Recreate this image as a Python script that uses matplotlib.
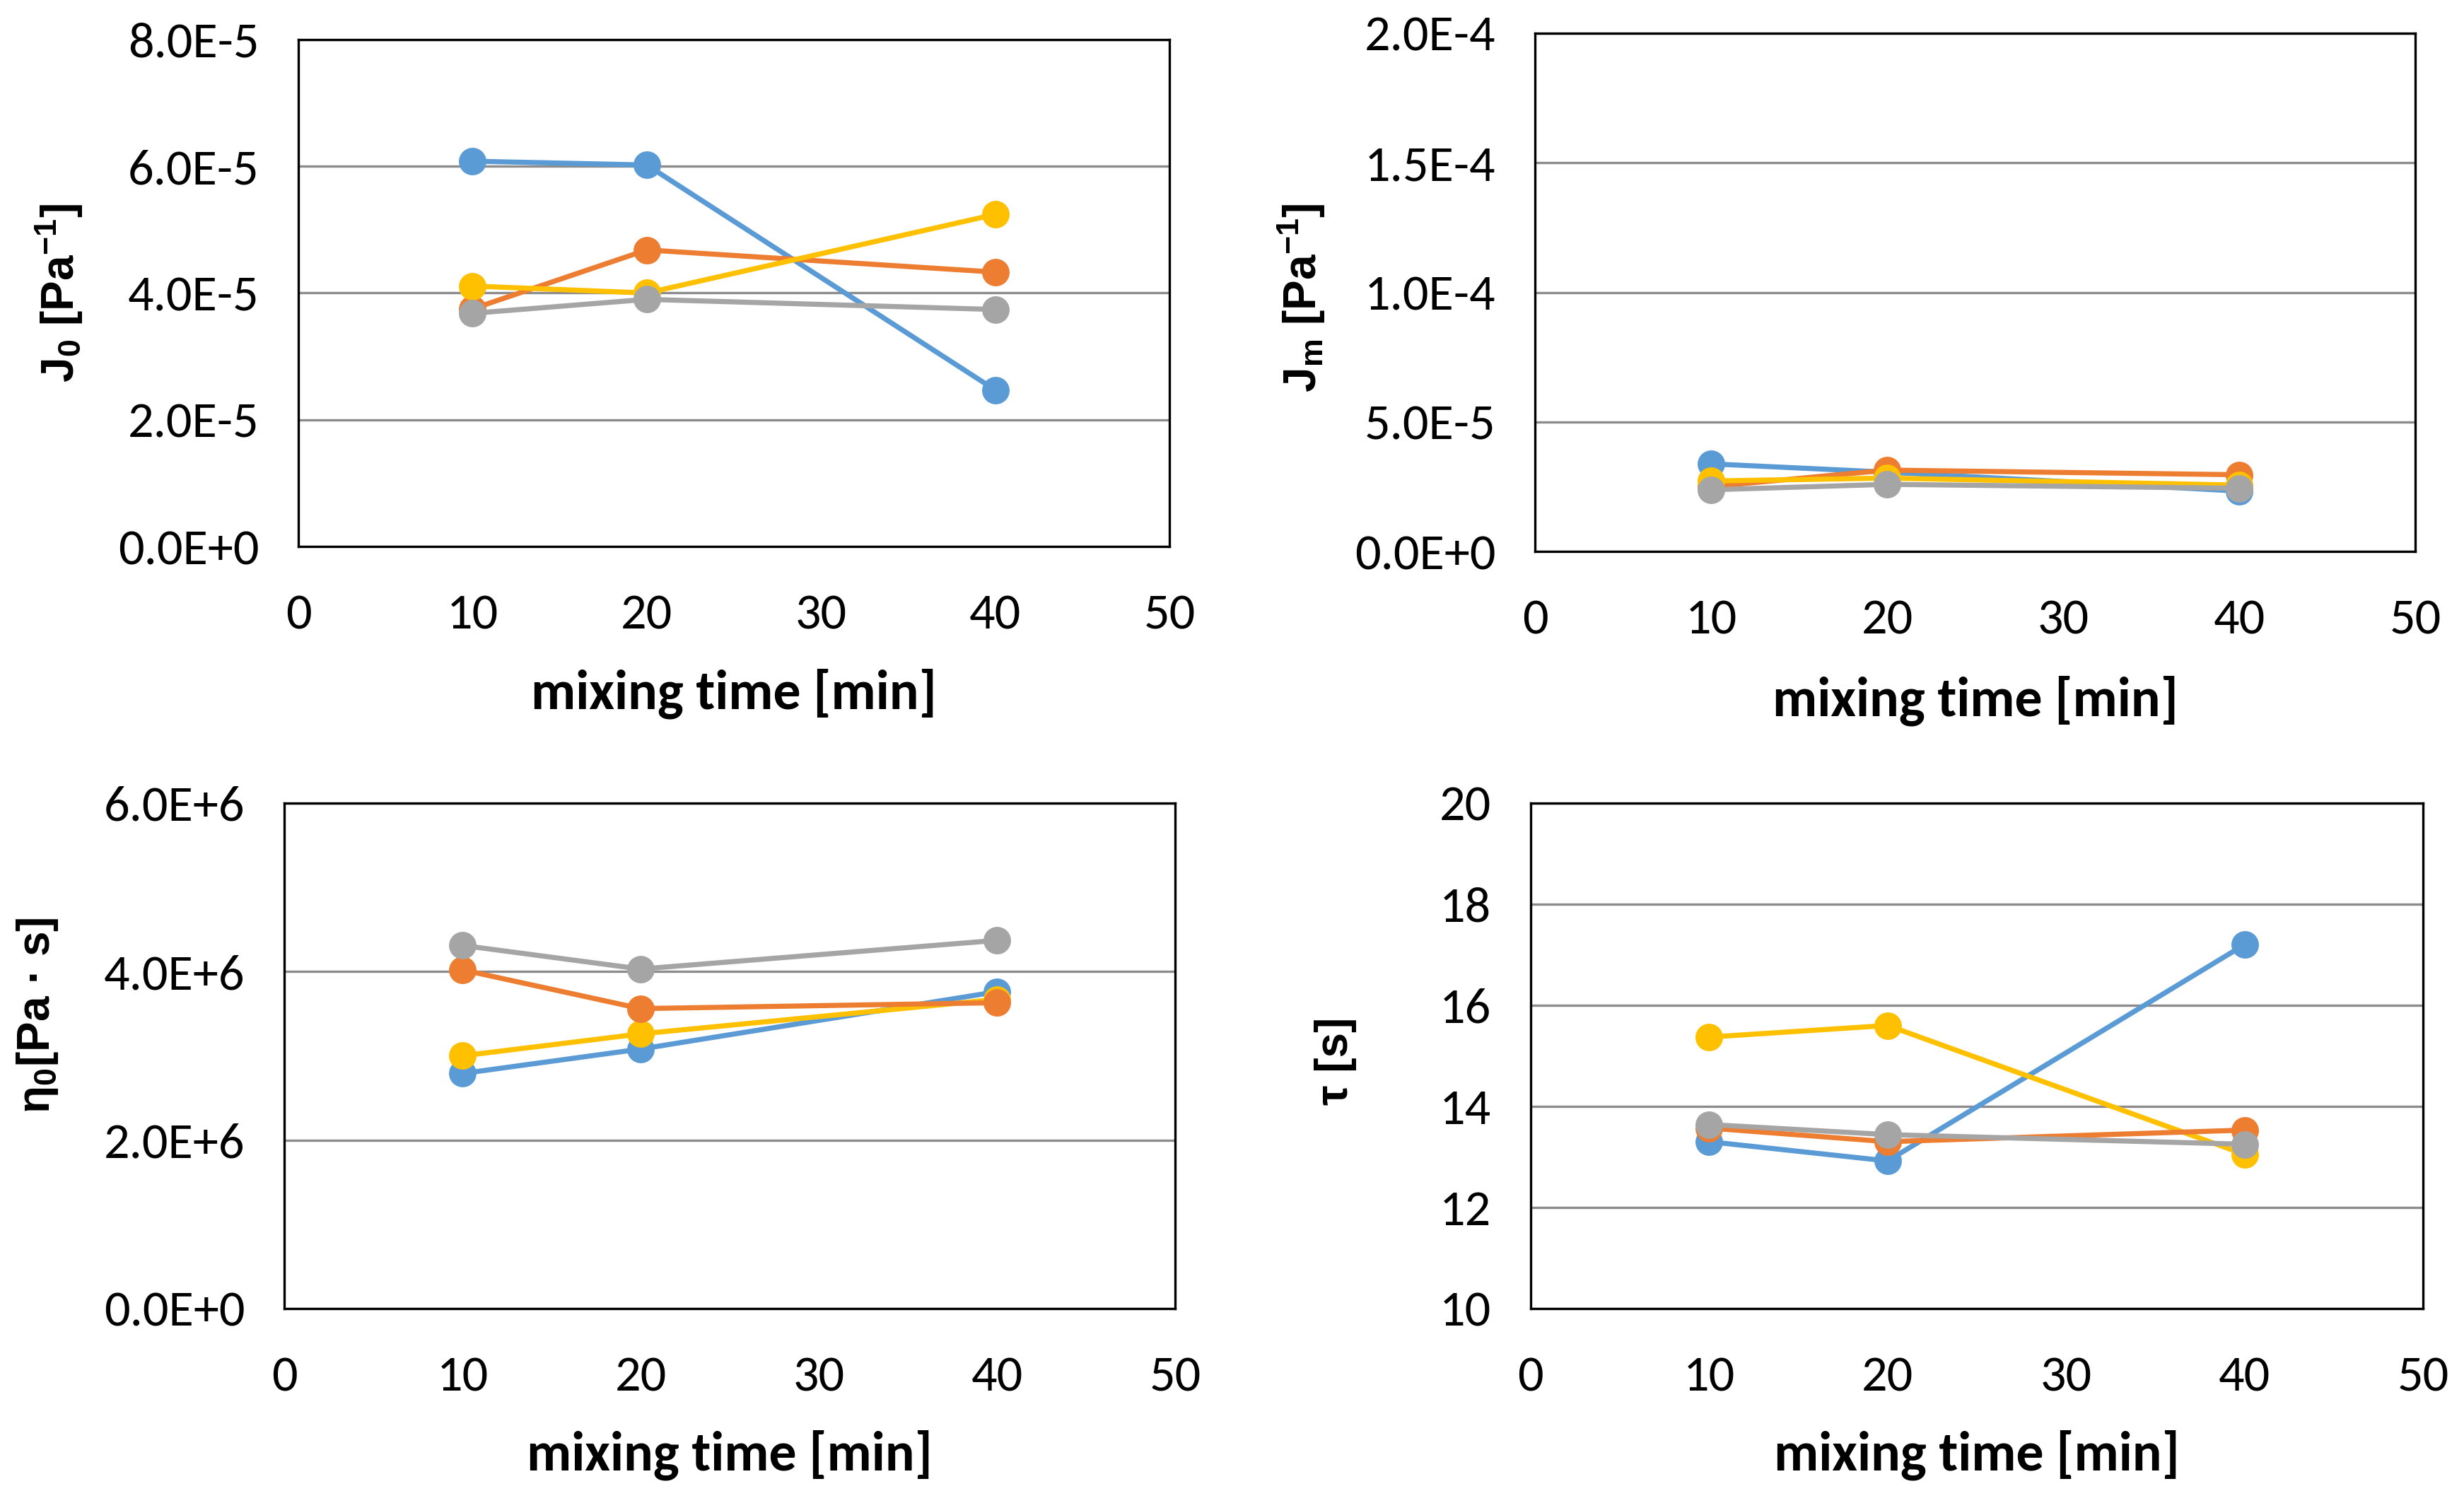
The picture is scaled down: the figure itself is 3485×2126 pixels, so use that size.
import matplotlib
matplotlib.use('Agg')
import matplotlib.pyplot as plt
from matplotlib.ticker import FuncFormatter, MultipleLocator

plt.rcParams['font.family'] = ['Carlito', 'Liberation Sans', 'DejaVu Sans']
plt.rcParams['mathtext.default'] = 'regular'

mixing_time = [10, 20, 40]

# J0 [1/Pa]
j0_blue = [6.08e-5, 6.02e-5, 2.47e-5]
j0_orange = [3.75e-5, 4.68e-5, 4.33e-5]
j0_yellow = [4.11e-5, 4.00e-5, 5.24e-5]
j0_gray = [3.68e-5, 3.90e-5, 3.74e-5]

# Jm [1/Pa]
jm_blue = [3.38e-5, 3.06e-5, 2.33e-5]
jm_orange = [2.50e-5, 3.14e-5, 2.96e-5]
jm_yellow = [2.72e-5, 2.83e-5, 2.56e-5]
jm_gray = [2.38e-5, 2.59e-5, 2.44e-5]

# eta0 [Pa s]
eta_blue = [2.79e6, 3.08e6, 3.76e6]
eta_orange = [4.02e6, 3.56e6, 3.63e6]
eta_yellow = [3.00e6, 3.26e6, 3.67e6]
eta_gray = [4.31e6, 4.03e6, 4.37e6]

# tau [s]
tau_blue = [13.3, 12.92, 17.2]
tau_orange = [13.57, 13.3, 13.53]
tau_yellow = [15.37, 15.6, 13.05]
tau_gray = [13.64, 13.44, 13.25]

colors = {'blue': '#5B9BD5', 'orange': '#ED7D31', 'yellow': '#FFC000', 'gray': '#A5A5A5'}


def sci(v, pos):
    if v == 0:
        return '0.0E+0'
    m, e = f'{v:.1E}'.split('E')
    return f'{m}E{int(e):+d}'


def make_panel(fig, rect, series, ylim, ystep, ylabel, ylab_x, ylab_y, fmt=None):
    ax = fig.add_axes(rect)
    for name, vals in series:
        ax.plot(mixing_time, vals, color=colors[name], lw=2.6, marker='o',
                ms=13, zorder=3)
    ax.set_xlim(0, 50)
    ax.set_ylim(*ylim)
    ax.xaxis.set_major_locator(MultipleLocator(10))
    ax.yaxis.set_major_locator(MultipleLocator(ystep))
    if fmt:
        ax.yaxis.set_major_formatter(FuncFormatter(fmt))
    ax.grid(axis='y', color='#8c8c8c', lw=1.2)
    ax.set_axisbelow(True)
    for sp in ax.spines.values():
        sp.set_linewidth(1.2)
        sp.set_color('black')
    ax.tick_params(length=0, labelsize=26, pad=20)
    ax.tick_params(axis='x', pad=24)
    ax.set_xlabel('mixing time [min]', fontsize=28, fontweight='bold')
    ax.xaxis.set_label_coords(0.5, -0.24)
    ax.set_ylabel(ylabel, fontsize=23, fontweight='bold',
                  family=['Liberation Sans', 'DejaVu Sans'])
    ax.yaxis.set_label_coords(ylab_x, ylab_y)
    return ax


fig = plt.figure(figsize=(17.425, 10.63), dpi=200)

make_panel(fig, [0.1211, 0.6364, 0.3535, 0.3373],
           [('blue', j0_blue), ('orange', j0_orange), ('yellow', j0_yellow), ('gray', j0_gray)],
           (0, 8e-5), 2e-5, 'J$_0$ [Pa$^{-1}$]', -0.245, 0.5, sci)
make_panel(fig, [0.6230, 0.6331, 0.3572, 0.3448],
           [('blue', jm_blue), ('orange', jm_orange), ('yellow', jm_yellow), ('gray', jm_gray)],
           (0, 2e-4), 5e-5, 'J$_m$ [Pa$^{-1}$]', -0.236, 0.49, sci)
make_panel(fig, [0.1154, 0.1294, 0.3615, 0.3363],
           [('blue', eta_blue), ('yellow', eta_yellow), ('orange', eta_orange), ('gray', eta_gray)],
           (0, 6e6), 2e6, 'η$_0$[Pa · s]', -0.252, 0.58, sci)
make_panel(fig, [0.6212, 0.1294, 0.3622, 0.3363],
           [('blue', tau_blue), ('yellow', tau_yellow), ('orange', tau_orange), ('gray', tau_gray)],
           (10, 20), 2, 'τ [s]', -0.195, 0.49)

fig.savefig('out.png', dpi=200)
